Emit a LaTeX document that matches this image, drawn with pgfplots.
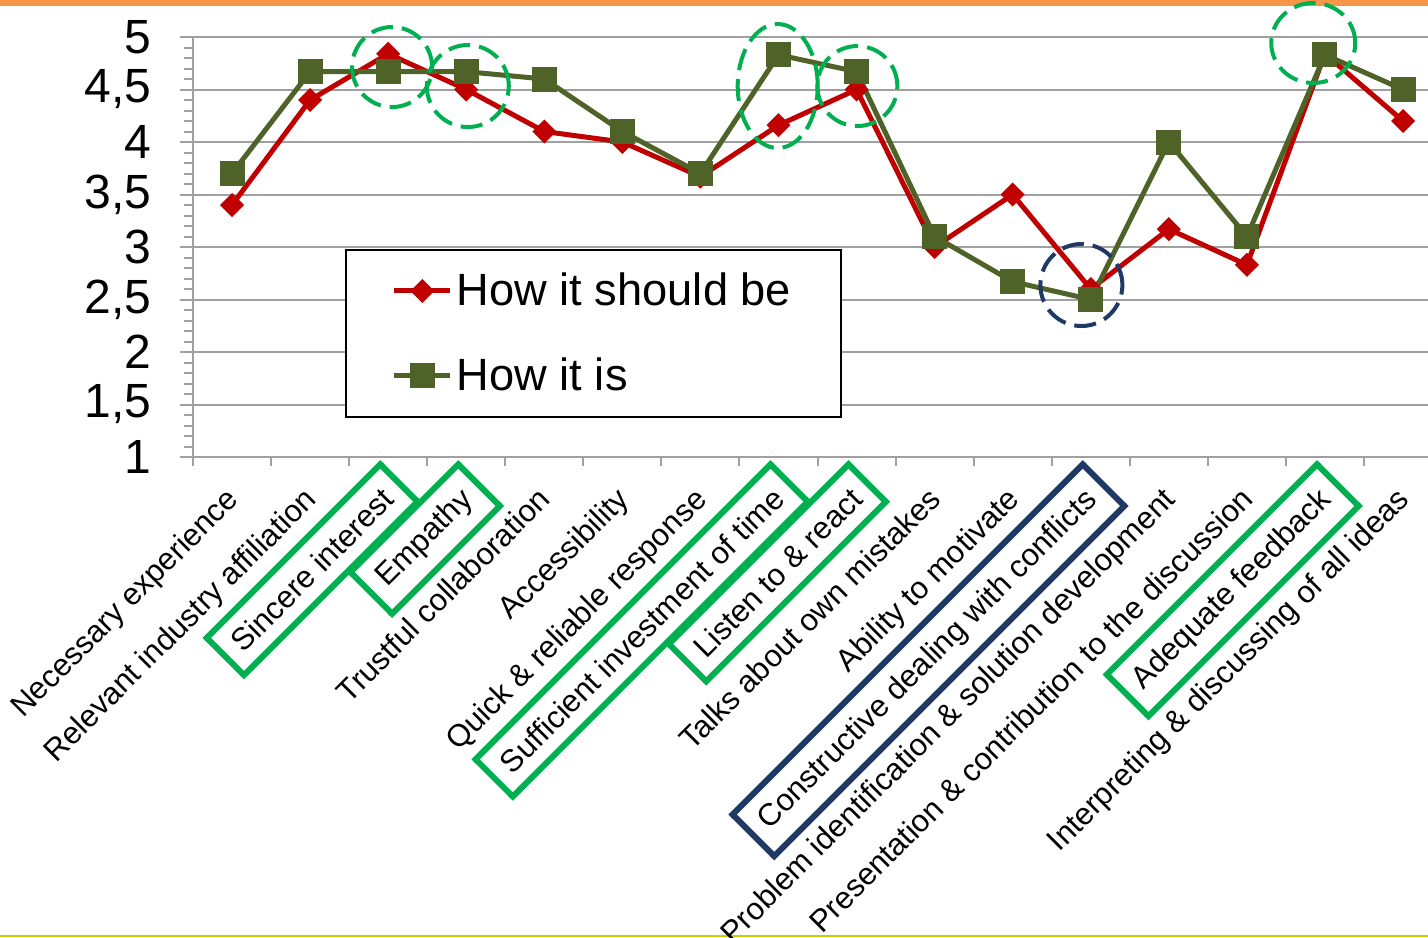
\documentclass[border=0pt]{standalone}
\usepackage{pgfplots}
\pgfplotsset{compat=1.18}
\usepackage{fontspec}
\setmainfont{Liberation Sans}
\definecolor{redl}{HTML}{C00000}
\definecolor{greenl}{HTML}{4F6228}
\definecolor{hlgreen}{HTML}{00B050}
\definecolor{hlblue}{HTML}{1F3864}
\definecolor{topor}{HTML}{F79646}
\definecolor{botyel}{HTML}{CCCC00}
\definecolor{gridgray}{HTML}{A0A0A0}
\newcommand\hlbox[2]{{\rlap{\kern-9pt\smash{\setlength\fboxsep{6pt}\setlength\fboxrule{3pt}\color{#1}\fbox{\color{black}#2}}}\phantom{#2}}}
\begin{document}
\begin{tikzpicture}
\path[use as bounding box] (0pt,0pt) rectangle (714pt,-468.5pt);
\fill[topor] (0pt,0pt) rectangle (714pt,-3pt);
\fill[botyel] (0pt,-467.5pt) rectangle (714pt,-468.5pt);
\begin{axis}[
  at={(96.5pt,-228.5pt)}, anchor=south west,
  scale only axis, width=617.5pt, height=210pt,
  xmin=-0.5, xmax=15.32, ymin=1, ymax=5,
  axis lines*=left,
  axis line style={gridgray, line width=1pt},
  ymajorgrids, grid style={gridgray, line width=1pt},
  tick align=outside,
  tick style={gridgray, line width=1pt},
  major tick length=6.5pt, minor tick length=4.5pt,
  ytick={1,1.5,...,5},
  yticklabels={1,{1,5},2,{2,5},3,{3,5},4,{4,5},5},
  minor y tick num=4,
  yticklabel style={font=\fontsize{24}{26}\selectfont, inner sep=0pt, anchor=east, xshift=-14pt},
  xtick={0,...,15},
  major x tick style={draw=none},
  minor xtick={-0.5,0.5,...,15.5},
  xticklabels={Necessary experience, Relevant industry affiliation, \hlbox{hlgreen}{Sincere interest}, \hlbox{hlgreen}{Empathy}, Trustful collaboration, Accessibility, Quick \& reliable response, \hlbox{hlgreen}{Sufficient investment of time}, \hlbox{hlgreen}{Listen to \& react}, Talks about own mistakes, Ability to motivate, \hlbox{hlblue}{Constructive dealing with conflicts}, Problem identification \& solution development, Presentation \& contribution to the discussion, \hlbox{hlgreen}{Adequate feedback}, Interpreting \& discussing of all ideas},
  xticklabel style={font=\fontsize{15.5}{18}\selectfont, inner sep=0pt, xshift=-4pt, yshift=-7.5pt, rotate=45, anchor=north east},
  clip=false,
  legend style={at={(0.123,0.495)}, anchor=north west, draw=black, line width=1pt,
    font=\fontsize{22.6}{26}\selectfont, inner xsep=23pt, inner ysep=9.5pt, row sep=20.5pt,
    nodes={inner sep=2pt}, cells={anchor=west}},
  legend image code/.code={\draw[mark repeat=2,mark phase=2,#1] plot coordinates {(0pt,0pt)(14pt,0pt)(28pt,0pt)};},
]
\addplot[redl, line width=2.5pt, mark=square*, mark size=3pt, mark options={rotate=45, solid}] coordinates {
(0,3.4) (1,4.4) (2,4.84) (3,4.5) (4,4.1) (5,4.0) (6,3.67) (7,4.16) (8,4.5) (9,3.0) (10,3.5) (11,2.6) (12,3.17) (13,2.83) (14,4.84) (15,4.2)};
\addlegendentry{How it should be}
\addplot[greenl, line width=2.5pt, mark=square*, mark size=5pt, mark options={solid}] coordinates {
(0,3.7) (1,4.67) (2,4.67) (3,4.67) (4,4.6) (5,4.1) (6,3.7) (7,4.83) (8,4.67) (9,3.1) (10,2.67) (11,2.5) (12,4.0) (13,3.1) (14,4.83) (15,4.5)};
\addlegendentry{How it is}
\draw[hlgreen, line width=2pt, dash pattern=on 11pt off 4.5pt] (axis cs:2.05,4.714) circle[radius=20pt];
\draw[hlgreen, line width=2pt, dash pattern=on 11pt off 4.5pt] (axis cs:3.02,4.533) circle[radius=20.5pt];
\draw[hlgreen, line width=2pt, dash pattern=on 11pt off 4.5pt] (axis cs:6.99,4.533) ellipse[x radius=20pt, y radius=31pt];
\draw[hlgreen, line width=2pt, dash pattern=on 11pt off 4.5pt] (axis cs:8.01,4.533) circle[radius=20pt];
\draw[hlgreen, line width=2pt, dash pattern=on 11pt off 4.5pt] (axis cs:13.85,4.943) ellipse[x radius=21pt, y radius=20pt];
\draw[hlblue, line width=2pt, dash pattern=on 11pt off 4.5pt] (axis cs:10.88,2.638) circle[radius=20.5pt];
\end{axis}
\end{tikzpicture}
\end{document}
